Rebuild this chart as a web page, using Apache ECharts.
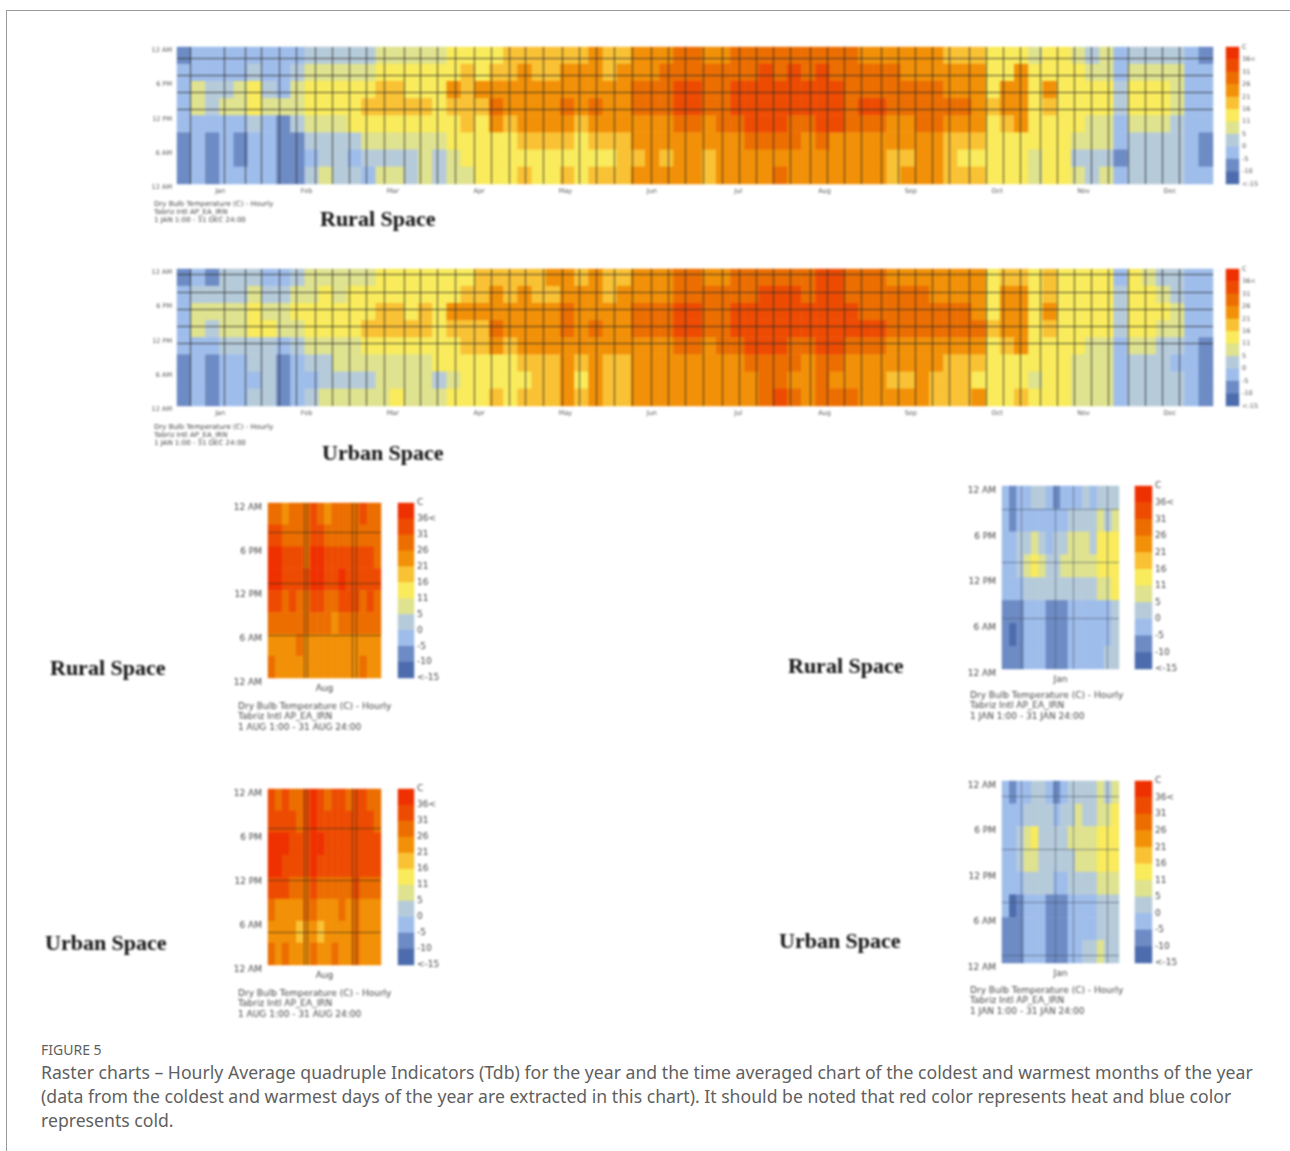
<!DOCTYPE html>
<html>
<head>
<meta charset="utf-8">
<title>Raster charts</title>
<script src="https://cdn.jsdelivr.net/npm/echarts@6/dist/echarts.min.js"></script>
<style>
  html, body { margin: 0; padding: 0; background: #fff; }
  #main { position: absolute; left: 0; top: 0; width: 1290px; height: 1035px; filter: blur(0.8px); }
  #frame { position: absolute; left: 6px; top: 10px; right: 0; bottom: 0; height: 1141px; border-top: 1px solid #9a9a9a; border-left: 1px solid #9a9a9a; }
  #note { position: absolute; left: 41px; top: 1039px; font-family: 'Noto Sans'; color: #5f5f5f; white-space: nowrap; }
  #note .fig { font-size: 14px; line-height: 22px; }
  #note .cap { font-size: 17.65px; line-height: 24px; margin-top: -1px; }
</style>
</head>
<body>
<div id="frame"></div>
<div id="main"></div>
<div id="note">
  <div class="fig">FIGURE 5</div>
  <div class="cap">Raster charts – Hourly Average quadruple Indicators (Tdb) for the year and the time averaged chart of the coldest and warmest months of the year<br>(data from the coldest and warmest days of the year are extracted in this chart). It should be noted that red color represents heat and blue color<br>represents cold.</div>
</div>
<script>
var monthNames = ['Jan', 'Feb', 'Mar', 'Apr', 'May', 'Jun', 'Jul', 'Aug', 'Sep', 'Oct', 'Nov', 'Dec']
var hourLabels = ['12 AM', '6 PM', '12 PM', '6 AM', '12 AM']
var scaleLabels = ['C', '36<', '31', '26', '21', '16', '11', '5', '0', '-5', '-10', '<-15']
var scaleValues = [38, 33, 28, 23, 18, 13, 8, 2, -3, -8, -12]
var scaleColors = ['#ef3000', '#ee4b02', '#ec6e00', '#f29007', '#f9c134', '#f9eb5b', '#dfe28e', '#b6cbda', '#9fbdeb', '#6d8bc4', '#4c6cad']
var scaleBreaks = [36, 31, 26, 21, 16, 11, 5, 0, -5, -10]

// 73 x 5 days, each line is one column, 8 x 3 hours from midnight (top) down
var ruralYear = [
  [-8, -3, -3, -3, -3, -8, -8, -8], [-3, -3, 8, 8, -3, -3, -3, -3], [-3, -3, 2, 2, -3, -8, -8, -8],
  [-3, -3, 2, 8, -3, -3, -3, -3], [-3, -3, 8, 8, -3, -8, -8, -3], [-3, 2, 13, 13, 2, -3, -3, -3],
  [-3, -3, 2, 8, -3, -3, -3, -3], [-3, -3, -3, 8, -8, -8, -8, -8], [-3, 2, 8, 8, 2, -8, -8, -8],
  [2, 8, 13, 13, 8, 2, -3, 2], [2, 8, 13, 13, 8, 2, 2, 8], [2, 8, 13, 13, 8, 2, 2, 2],
  [2, 8, 13, 13, 13, 2, -3, 2], [2, 8, 13, 18, 13, 8, 2, -3], [8, 13, 18, 18, 13, 8, 2, 8],
  [8, 13, 18, 18, 13, 8, 2, 8], [8, 13, 13, 18, 13, 8, 2, 2], [8, 13, 13, 18, 13, 8, 8, 8],
  [8, 13, 13, 13, 13, 8, 2, 2], [13, 13, 23, 18, 13, 13, 8, 8], [13, 18, 18, 18, 18, 13, 13, 8],
  [13, 13, 23, 18, 13, 13, 13, 13], [13, 18, 23, 28, 23, 13, 13, 13], [18, 18, 23, 23, 18, 13, 13, 13],
  [18, 23, 23, 23, 23, 18, 13, 18], [18, 18, 23, 23, 23, 18, 13, 13], [18, 18, 23, 23, 23, 18, 13, 13],
  [18, 23, 23, 28, 23, 18, 13, 18], [18, 23, 23, 23, 18, 13, 13, 13], [23, 23, 23, 28, 23, 18, 13, 18],
  [18, 18, 23, 23, 23, 18, 13, 18], [18, 23, 23, 23, 23, 18, 18, 18], [23, 23, 28, 28, 23, 23, 18, 23],
  [23, 23, 28, 28, 23, 23, 23, 23], [23, 28, 28, 28, 23, 23, 18, 23], [28, 28, 33, 33, 28, 23, 23, 23],
  [28, 28, 33, 33, 28, 23, 23, 23], [23, 28, 28, 28, 23, 23, 18, 18], [23, 28, 28, 28, 28, 23, 23, 23],
  [28, 28, 33, 33, 28, 23, 23, 23], [28, 28, 33, 33, 33, 28, 23, 23], [28, 33, 33, 33, 33, 28, 23, 23],
  [28, 28, 33, 33, 33, 28, 23, 28], [28, 33, 33, 33, 28, 28, 23, 23], [28, 28, 33, 33, 28, 23, 23, 23],
  [28, 33, 33, 33, 33, 28, 23, 23], [28, 28, 33, 33, 33, 23, 23, 23], [28, 28, 28, 28, 28, 23, 23, 23],
  [23, 28, 28, 33, 28, 23, 23, 23], [23, 28, 28, 33, 28, 23, 23, 23], [23, 28, 28, 28, 23, 23, 18, 18],
  [23, 23, 28, 28, 23, 23, 18, 23], [23, 23, 28, 28, 28, 23, 23, 23], [23, 23, 28, 28, 28, 23, 23, 23],
  [18, 23, 23, 28, 23, 18, 18, 18], [18, 23, 23, 28, 23, 18, 13, 18], [18, 23, 23, 23, 23, 18, 13, 18],
  [13, 13, 13, 18, 13, 13, 13, 13], [13, 13, 23, 23, 18, 13, 13, 13], [13, 23, 23, 23, 23, 13, 13, 13],
  [8, 13, 13, 13, 13, 13, 8, 8], [13, 13, 23, 18, 13, 13, 13, 13], [13, 13, 13, 13, 13, 13, 13, 13],
  [8, 13, 13, 13, 13, 8, 2, 8], [2, 8, 13, 13, 8, 8, 2, 2], [8, 8, 13, 13, 8, 8, 2, 8],
  [-3, -3, 2, 2, -3, -3, -8, -3], [2, 8, 13, 13, 8, 2, 2, 2], [2, 8, 13, 13, 8, 2, 2, 2],
  [2, 8, 13, 13, 8, 2, 2, 2], [2, 8, 8, 8, 2, 2, 2, 2], [-3, -3, -3, -3, -3, -3, -3, -3],
  [-8, -3, -3, -3, -3, -8, -8, -3]
]
var urbanYear = [
  [-8, -3, -3, -3, -3, -8, -8, -8], [-3, 2, 8, 8, -3, -3, -3, -3], [-8, 2, 8, 2, -3, -8, -8, -8],
  [2, 2, 8, 8, 2, -3, -3, -3], [2, 2, 8, 8, 2, -3, -3, -3], [2, 8, 13, 13, 2, 2, -3, 2],
  [-3, 2, 8, 13, 2, 2, 2, 2], [-3, 2, 8, 8, -3, -8, -8, -8], [2, 8, 13, 8, 2, -3, -3, -3],
  [8, 8, 13, 13, 8, 2, -3, 2], [8, 13, 13, 13, 8, 2, 2, 8], [8, 8, 13, 13, 8, 8, 2, 8],
  [8, 13, 13, 13, 8, 8, 2, 8], [8, 13, 13, 18, 13, 8, 2, 8], [13, 13, 18, 18, 13, 8, 8, 8],
  [13, 13, 18, 18, 13, 8, 8, 13], [13, 13, 13, 18, 13, 8, 8, 8], [13, 13, 18, 18, 13, 8, 8, 8],
  [13, 13, 13, 13, 13, 13, 2, 8], [13, 13, 23, 18, 13, 13, 8, 13], [13, 18, 23, 18, 18, 13, 13, 13],
  [18, 18, 23, 18, 18, 13, 13, 13], [18, 23, 23, 28, 23, 13, 13, 18], [18, 18, 23, 23, 18, 13, 13, 13],
  [18, 23, 23, 23, 23, 18, 13, 18], [18, 18, 23, 23, 23, 18, 18, 18], [23, 18, 23, 23, 23, 18, 18, 18],
  [23, 23, 28, 28, 23, 23, 23, 23], [18, 23, 23, 23, 23, 18, 13, 18], [23, 23, 23, 28, 23, 23, 23, 23],
  [18, 18, 23, 23, 23, 18, 18, 18], [18, 23, 23, 23, 23, 18, 18, 18], [23, 23, 28, 28, 23, 23, 23, 23],
  [23, 23, 28, 28, 23, 23, 23, 23], [23, 23, 28, 28, 23, 23, 23, 23], [28, 28, 33, 33, 28, 23, 23, 23],
  [28, 28, 33, 33, 28, 23, 23, 23], [23, 28, 28, 28, 23, 23, 23, 23], [23, 28, 28, 28, 28, 23, 23, 23],
  [28, 28, 33, 33, 28, 23, 23, 23], [28, 28, 33, 33, 33, 28, 23, 23], [28, 33, 33, 33, 33, 28, 28, 28],
  [28, 33, 33, 33, 33, 28, 28, 33], [28, 33, 33, 33, 28, 28, 23, 28], [28, 28, 33, 33, 28, 23, 23, 23],
  [33, 33, 33, 33, 33, 28, 28, 28], [33, 33, 33, 33, 33, 28, 23, 28], [28, 28, 33, 33, 28, 23, 23, 28],
  [28, 28, 28, 33, 28, 23, 23, 23], [28, 28, 28, 33, 28, 23, 23, 23], [23, 28, 28, 28, 23, 23, 18, 23],
  [23, 28, 28, 28, 23, 23, 18, 23], [23, 28, 28, 28, 23, 23, 23, 23], [23, 23, 28, 28, 23, 23, 18, 18],
  [23, 23, 28, 28, 23, 18, 18, 18], [23, 23, 28, 28, 23, 18, 18, 18], [23, 23, 23, 28, 23, 18, 13, 23],
  [13, 13, 13, 18, 13, 13, 13, 13], [18, 23, 23, 23, 18, 13, 13, 13], [18, 23, 23, 23, 23, 13, 13, 18],
  [13, 13, 13, 13, 13, 13, 8, 13], [18, 18, 23, 18, 13, 13, 13, 13], [13, 13, 13, 13, 13, 13, 13, 13],
  [13, 13, 13, 13, 13, 8, 8, 8], [13, 13, 13, 13, 8, 8, 8, 8], [13, 13, 13, 13, 8, 8, 8, 8],
  [-3, 2, 2, 2, -3, -3, -3, -3], [13, 13, 13, 13, 8, 2, 2, 2], [8, 13, 13, 13, 8, 2, 2, 2],
  [2, 8, 13, 8, 2, 2, 2, 2], [2, 2, 8, 8, 2, -3, 2, 2], [-3, -3, -3, -3, -3, -3, -3, -3],
  [-3, -3, -3, -3, -8, -8, -8, -8]
]
// single months: 16 x 2 days
var ruralAug = [
  [28, 33, 38, 38, 33, 28, 23, 28], [28, 33, 38, 38, 33, 28, 23, 23], [23, 28, 33, 33, 28, 28, 23, 23], [28, 28, 33, 33, 33, 28, 23, 23],
  [28, 28, 33, 33, 28, 28, 28, 23], [28, 28, 28, 33, 28, 28, 23, 23], [33, 33, 38, 38, 33, 28, 23, 23], [28, 33, 38, 38, 33, 28, 23, 23],
  [23, 28, 33, 33, 28, 28, 23, 23], [28, 28, 33, 33, 28, 23, 23, 23], [28, 28, 33, 38, 33, 28, 23, 23], [28, 28, 33, 33, 33, 28, 23, 23],
  [28, 28, 33, 33, 33, 28, 23, 23], [33, 28, 33, 33, 28, 28, 23, 28], [28, 28, 33, 33, 33, 28, 23, 23], [28, 28, 28, 33, 28, 28, 23, 23]
]
var urbanAug = [
  [33, 33, 38, 38, 33, 28, 23, 28], [28, 33, 38, 38, 33, 23, 23, 23], [33, 33, 38, 33, 33, 23, 23, 28], [28, 33, 33, 33, 28, 23, 23, 23],
  [28, 28, 33, 33, 28, 23, 18, 23], [33, 33, 33, 33, 28, 28, 23, 23], [38, 38, 38, 38, 33, 28, 23, 28], [33, 33, 38, 33, 28, 23, 18, 23],
  [28, 33, 33, 33, 28, 23, 23, 23], [33, 33, 33, 33, 28, 23, 23, 28], [33, 33, 33, 33, 28, 28, 23, 23], [28, 33, 33, 33, 28, 23, 23, 23],
  [33, 33, 33, 33, 33, 28, 28, 28], [33, 33, 33, 33, 28, 23, 23, 23], [28, 33, 33, 33, 28, 23, 23, 23], [28, 28, 33, 33, 28, 23, 23, 23]
]
var ruralJan = [
  [-3, -3, -3, -3, -3, -8, -8, -8], [-8, -8, -3, -3, -3, -8, -12, -8], [-3, -3, 2, 2, -3, -8, -8, -8], [-3, -3, 2, 8, 2, -3, -3, -3],
  [2, -3, 8, 13, 2, -3, -3, -3], [2, -3, 2, 8, 2, -3, -3, -3], [-3, -3, -3, 2, 2, -8, -8, -8], [-8, -3, 2, 2, 2, -8, -8, -8],
  [-3, -3, 2, 8, 2, -8, -8, -8], [-3, 2, 8, 8, 2, -3, -3, -3], [-3, 2, 8, 8, 2, -3, -3, -3], [2, 2, 8, 8, 2, -3, -3, -3],
  [-3, 2, 2, 8, 2, -3, -3, -3], [2, 8, 13, 13, 8, -3, -3, -3], [2, 2, 13, 13, 8, -3, -3, 2], [2, 8, 13, 13, 13, 2, 2, 2]
]
var urbanJan = [
  [-3, -3, -3, -3, -3, -3, -8, -8], [-8, -3, -3, -3, -3, -12, -8, -8], [-3, -3, 2, 2, -3, -8, -8, -8], [-3, 2, 8, 8, 2, -3, -3, -3],
  [2, 2, 13, 8, 2, -3, -3, -3], [2, 2, 2, 2, 2, -3, -3, -3], [-3, 2, 2, 2, 2, -8, -8, -8], [-8, -3, 2, 2, -3, -8, -8, -8],
  [-3, 2, 2, 2, -3, -8, -8, -8], [2, 2, 8, 2, 2, -3, -3, -3], [2, 8, 8, 8, 2, -3, -3, -3], [2, 2, 8, 8, 2, -3, -3, 2],
  [2, 2, 8, 8, 2, -3, -3, 2], [8, 8, 13, 13, 8, 2, 2, 8], [2, 8, 13, 13, 8, 2, 2, 2], [8, 13, 13, 13, 8, 2, 2, 2]
]

// the dark lines left over in the picture, in day of year / day of month and hour of day
var yearDayLines = [4.8, 16.7, 23.9, 29.8, 35.9, 41.9, 48.8, 54.7, 60.6, 66.7, 73, 79.9, 85.8, 91.8, 98, 104.8, 110.7, 117, 122.7, 128.9, 135.9, 141.8, 147.8, 154.1, 160.4, 167, 173, 179, 185.3, 192, 198, 204, 210, 216, 223, 229, 235, 241, 248, 254, 260, 266, 272, 279, 285, 291, 297, 304, 310, 316, 322, 328, 335, 341, 347, 353]
var ruralYearHours = [22.1, 19, 16, 13.1]
var urbanYearHours = [23, 20, 17, 14, 11]
var augDayLines = [9.9, 10.8, 23.2, 24.1]
var ruralAugHours = [20, 13, 5.9]
var urbanAugHours = [18.6, 11.6, 4.4]
var janDayLines = [5.1, 14, 19, 28]
var ruralJanHours = [20.9, 14, 6.7]
var urbanJanHours = [22, 15, 8, 1]

var grids = [], xAxes = [], yAxes = [], series = [], heatIdx = []
var smallFont = 'DejaVu Sans'

function range(n) {
  var res = []
  for (var i = 0; i < n; i++) res.push(i)
  return res
}

function addRaster(c) {
  var g = grids.length
  var nx = xAxes.length, ny = yAxes.length
  var cells = []
  for (var i = 0; i < c.values.length; i++) {
    for (var j = 0; j < c.values[i].length; j++) {
      cells.push([i, j, c.values[i][j]])
    }
  }
  grids.push({ left: c.x, top: c.y, width: c.w, height: c.h, show: false })
  var labelStyle = { fontFamily: smallFont, fontSize: c.font, color: c.textColor }
  xAxes.push(
    { gridIndex: g, type: 'category', data: range(c.values.length), show: false, position: 'top' },
    { gridIndex: g, type: 'category', data: c.months, position: 'bottom',
      axisLine: { show: false }, axisTick: { show: false },
      axisLabel: Object.assign({ margin: c.monthGap, interval: 0 }, labelStyle) },
    { gridIndex: g, type: 'value', min: 0, max: c.days, show: false, position: 'top' }
  )
  yAxes.push(
    { gridIndex: g, type: 'category', data: range(8), inverse: true, show: false, position: 'right' },
    { gridIndex: g, type: 'category', data: hourLabels, boundaryGap: false, inverse: true, position: 'left',
      axisLine: { show: false }, axisTick: { show: false },
      axisLabel: Object.assign({ margin: c.hourGap, interval: 0, verticalAlign: 'top' }, labelStyle) },
    { gridIndex: g, type: 'value', min: 0, max: 24, show: false, position: 'right' }
  )
  heatIdx.push(series.length)
  series.push({
    type: 'heatmap', xAxisIndex: nx, yAxisIndex: ny, data: cells, silent: true,
    progressive: 0, animation: false
  })
  var lines = []
  c.dayLines.forEach(function (d) { lines.push({ xAxis: d }) })
  c.hourLines.forEach(function (h) { lines.push({ yAxis: h }) })
  series.push({
    type: 'scatter', xAxisIndex: nx + 2, yAxisIndex: ny + 2, data: [[0, 0]], symbolSize: 0, silent: true, z: 5,
    markLine: {
      symbol: ['none', 'none'], silent: true, animation: false, label: { show: false },
      lineStyle: { color: c.lineColor, width: 1, type: 'solid' }, data: lines
    }
  })

  // colour scale beside the raster
  var s = grids.length
  var sx = xAxes.length, sy = yAxes.length
  var scaleCells = scaleValues.map(function (v, i) { return [0, i, v] })
  grids.push({ left: c.scaleX, top: c.y, width: c.scaleW, height: c.h, show: false })
  xAxes.push({ gridIndex: s, type: 'category', data: ['C'], show: false })
  yAxes.push(
    { gridIndex: s, type: 'category', data: range(11), inverse: true, show: false, position: 'left' },
    { gridIndex: s, type: 'category', data: scaleLabels, boundaryGap: false, inverse: true, position: 'right',
      axisLine: { show: false }, axisTick: { show: false },
      axisLabel: Object.assign({ margin: 3, interval: 0 }, labelStyle) }
  )
  heatIdx.push(series.length)
  series.push({ type: 'heatmap', xAxisIndex: sx, yAxisIndex: sy, data: scaleCells, silent: true, animation: false })
}

var yearStyle = { days: 365, x: 177, w: 1036, h: 137, months: monthNames, dayLines: yearDayLines, scaleX: 1226, scaleW: 13, font: 6.5, textColor: '#555', monthGap: 4, hourGap: 5, lineColor: 'rgba(45,45,45,0.8)' }
var monthStyle = { days: 31, font: 9, textColor: '#444', monthGap: 6, hourGap: 6, lineColor: 'rgba(70,50,20,0.7)' }

addRaster(Object.assign({}, yearStyle, { values: ruralYear, y: 47, hourLines: ruralYearHours }))
addRaster(Object.assign({}, yearStyle, { values: urbanYear, y: 269, hourLines: urbanYearHours }))
addRaster(Object.assign({}, monthStyle, { values: ruralAug, x: 268, y: 503, w: 113, h: 175, months: ['Aug'], dayLines: augDayLines, hourLines: ruralAugHours, scaleX: 398, scaleW: 16 }))
addRaster(Object.assign({}, monthStyle, { values: urbanAug, x: 268, y: 789, w: 113, h: 176, months: ['Aug'], dayLines: augDayLines, hourLines: urbanAugHours, scaleX: 398, scaleW: 16 }))
addRaster(Object.assign({}, monthStyle, { values: ruralJan, x: 1002, y: 486, w: 117, h: 183, months: ['Jan'], dayLines: janDayLines, hourLines: ruralJanHours, scaleX: 1135, scaleW: 17, lineColor: 'rgba(70,85,110,0.6)' }))
addRaster(Object.assign({}, monthStyle, { values: urbanJan, x: 1002, y: 781, w: 117, h: 182, months: ['Jan'], dayLines: janDayLines, hourLines: urbanJanHours, scaleX: 1135, scaleW: 17, lineColor: 'rgba(70,85,110,0.6)' }))

var pieces = scaleColors.map(function (col, i) {
  var p = { color: col }
  if (i < scaleBreaks.length) p.min = scaleBreaks[i]
  if (i > 0) p.max = scaleBreaks[i - 1]
  return p
})

function note(x, y, lines, size, gap) {
  return lines.map(function (t, i) {
    return { type: 'text', left: x, top: y + i * gap, silent: true,
      style: { text: t, fontFamily: smallFont, fontSize: size, fill: '#444' } }
  })
}
function spaceTitle(x, y, t) {
  return { type: 'text', left: x, top: y, silent: true,
    style: { text: t, fontFamily: 'Liberation Serif', fontWeight: 'bold', fontSize: 22, fill: '#111' } }
}

var graphics = [
  spaceTitle(320, 209, 'Rural Space'),
  spaceTitle(322, 443, 'Urban Space'),
  spaceTitle(50, 658, 'Rural Space'),
  spaceTitle(788, 656, 'Rural Space'),
  spaceTitle(45, 933, 'Urban Space'),
  spaceTitle(779, 931, 'Urban Space')
]
graphics = graphics
  .concat(note(154, 201, ['Dry Bulb Temperature (C) - Hourly', 'Tabriz Intl AP_EA_IRN', '1 JAN 1:00 - 31 DEC 24:00'], 7, 8))
  .concat(note(154, 424, ['Dry Bulb Temperature (C) - Hourly', 'Tabriz Intl AP_EA_IRN', '1 JAN 1:00 - 31 DEC 24:00'], 7, 8))
  .concat(note(238, 702, ['Dry Bulb Temperature (C) - Hourly', 'Tabriz Intl AP_EA_IRN', '1 AUG 1:00 - 31 AUG 24:00'], 9, 10.5))
  .concat(note(238, 989, ['Dry Bulb Temperature (C) - Hourly', 'Tabriz Intl AP_EA_IRN', '1 AUG 1:00 - 31 AUG 24:00'], 9, 10.5))
  .concat(note(970, 691, ['Dry Bulb Temperature (C) - Hourly', 'Tabriz Intl AP_EA_IRN', '1 JAN 1:00 - 31 JAN 24:00'], 9, 10.5))
  .concat(note(970, 986, ['Dry Bulb Temperature (C) - Hourly', 'Tabriz Intl AP_EA_IRN', '1 JAN 1:00 - 31 JAN 24:00'], 9, 10.5))

var chart = echarts.init(document.getElementById('main'))
chart.setOption({
  animation: false,
  grid: grids,
  xAxis: xAxes,
  yAxis: yAxes,
  visualMap: { show: false, type: 'piecewise', dimension: 2, seriesIndex: heatIdx, pieces: pieces },
  graphic: graphics,
  series: series
})
</script>
</body>
</html>
